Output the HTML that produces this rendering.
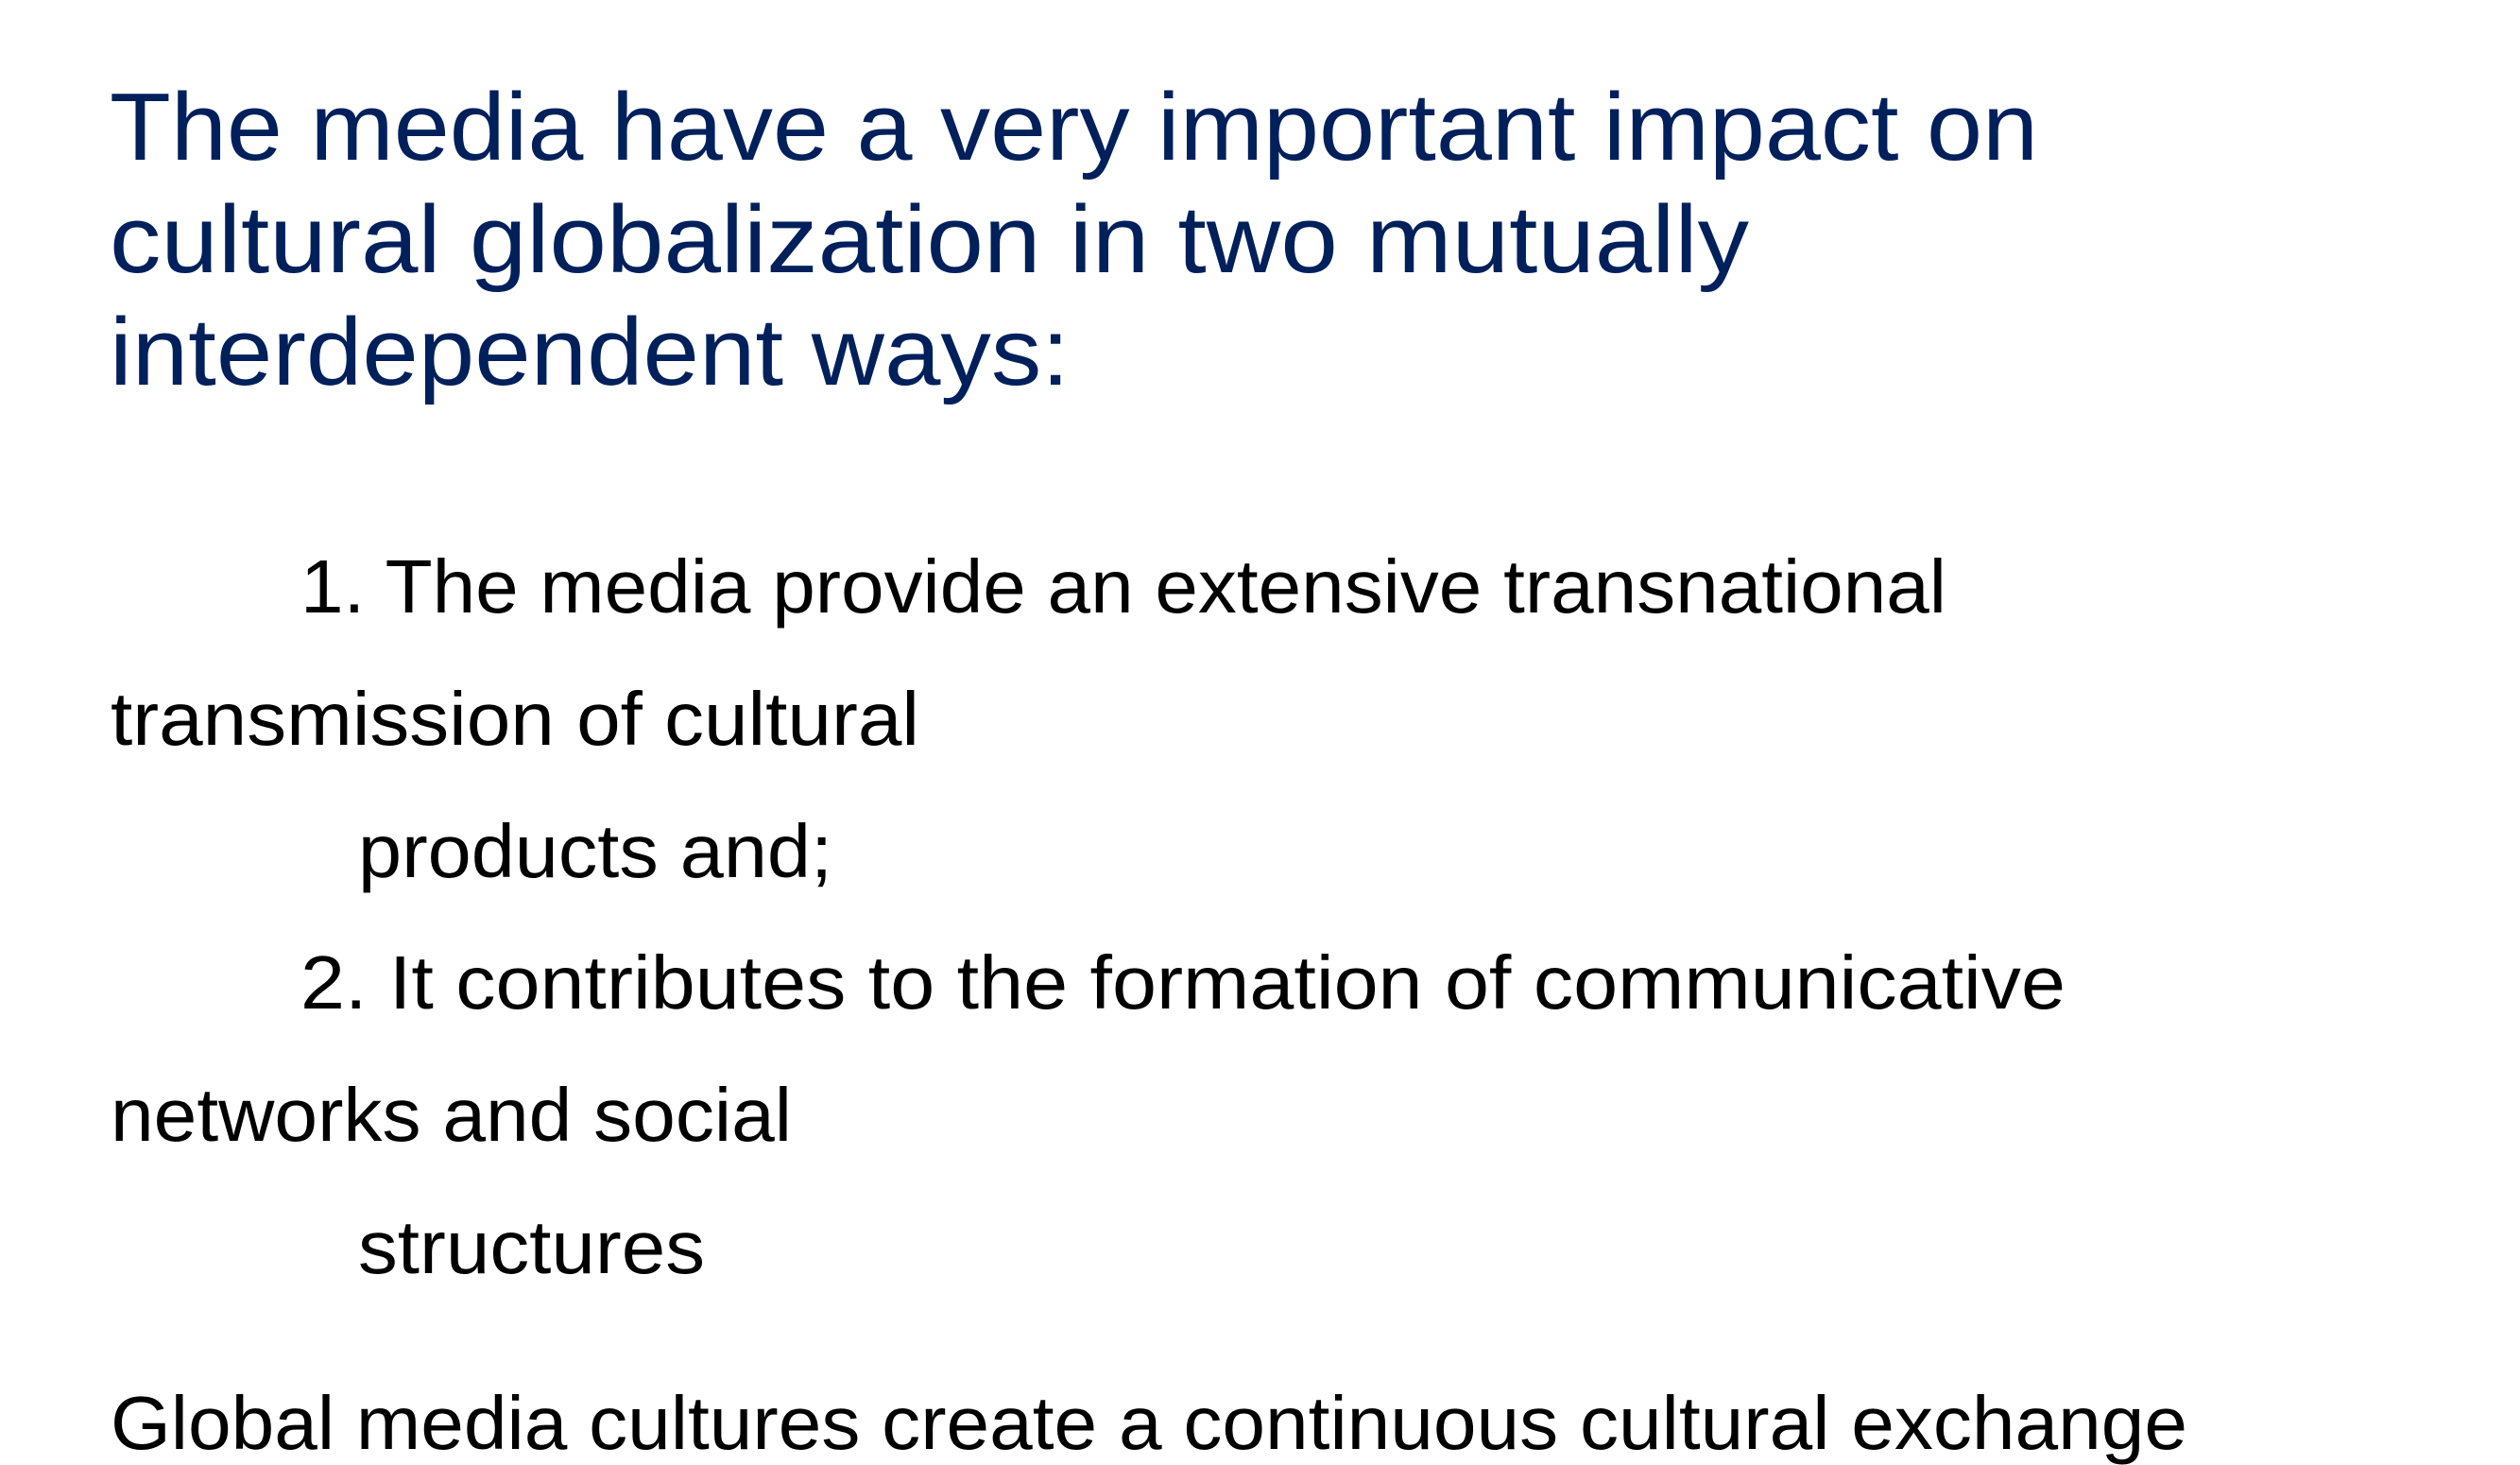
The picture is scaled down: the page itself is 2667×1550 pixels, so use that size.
<!DOCTYPE html>
<html><head><meta charset="utf-8"><style>
html,body{margin:0;padding:0;background:#fff;}
body{width:2667px;height:1500px;position:relative;overflow:hidden;font-family:"Liberation Sans",sans-serif;}
.l{position:absolute;white-space:nowrap;line-height:1;transform-origin:0 0;}
.t{font-size:101px;color:#00205b;}
.b{font-size:80px;color:#000;}
</style></head><body>
<div>
<div class="l t" data-w="2041" style="left:116px;top:85px">The media have a very important impact on</div>
<div class="l t" data-w="1735" style="left:116px;top:204px">cultural globalization in two mutually</div>
<div class="l t" data-w="1016" style="left:116px;top:323px">interdependent ways:</div>
</div>
<div>
<div class="l b" data-w="1742" style="left:318px;top:581px">1. The media provide an extensive transnational</div>
<div class="l b" data-w="856" style="left:117px;top:721px">transmission of cultural</div>
<div class="l b" data-w="502" style="left:379px;top:861px">products and;</div>
<div class="l b" data-w="1868" style="left:318px;top:1000px">2. It contributes to the formation of communicative</div>
<div class="l b" data-w="721" style="left:117px;top:1140px">networks and social</div>
<div class="l b" data-w="367" style="left:379px;top:1280px">structures</div>
<div class="l b" data-w="2198" style="left:117px;top:1466px">Global media cultures create a continuous cultural exchange</div>
</div>
<script>
document.querySelectorAll('.l').forEach(function(el){
  var w=parseFloat(el.getAttribute('data-w'));
  var cw=el.getBoundingClientRect().width;
  if(cw>0) el.style.transform='scaleX('+(w/cw)+')';
});
</script>
</body></html>
